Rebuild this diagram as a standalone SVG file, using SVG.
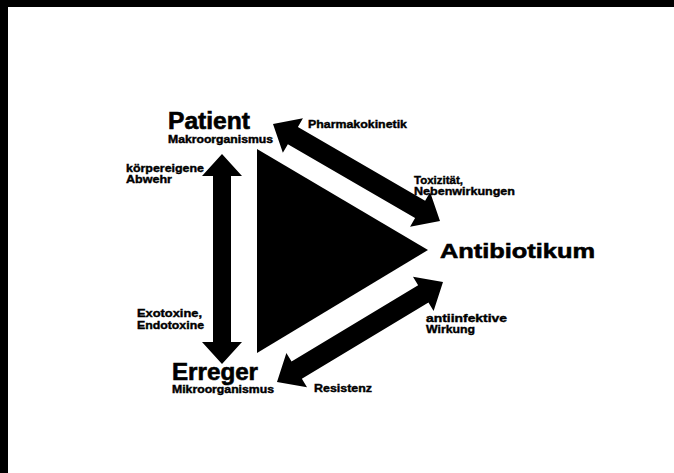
<svg xmlns="http://www.w3.org/2000/svg" width="674" height="473" viewBox="0 0 674 473">
<style>
text{font-family:"Liberation Sans",Arial,sans-serif;font-weight:bold;fill:#000;stroke:#000}
.big{font-size:23px;stroke-width:0.6}
.ab{font-size:21px;stroke-width:0.6}
.sm{font-size:11px;stroke-width:0.4}
.xs{font-size:10px;stroke-width:0.4}
.shape{fill:#000;stroke:none}
</style>
<rect width="674" height="473" fill="#fff"/>
<rect x="0" y="0" width="674" height="7" fill="#000"/>
<rect x="0" y="0" width="8" height="473" fill="#000"/>
<g id="center-triangle">
<polygon class="shape" points="257,149 428,250 257,353"/>
</g>
<g id="patient">
<text class="big" x="168" y="129" textLength="82" lengthAdjust="spacingAndGlyphs">Patient</text>
<text class="xs" x="168" y="143" textLength="105" lengthAdjust="spacingAndGlyphs">Makroorganismus</text>
</g>
<g id="antibiotikum">
<text class="ab" x="440" y="257.5" textLength="155" lengthAdjust="spacingAndGlyphs">Antibiotikum</text>
</g>
<g id="erreger">
<text class="big" x="172" y="380" textLength="86" lengthAdjust="spacingAndGlyphs">Erreger</text>
<text class="xs" x="172" y="392.5" textLength="102" lengthAdjust="spacingAndGlyphs">Mikroorganismus</text>
</g>
<g id="connectors">
<polygon class="shape" points="222,154 242,176 231,176 231,342 242,342 222,364 202,342 213,342 213,176 202,176"/>
<polygon class="shape" points="273,124 302.95,118.25 297.92,126.9 425.12,200.78 430.15,192.13 440,221 410.05,226.75 415.08,218.1 287.88,144.22 282.85,152.87"/>
<polygon class="shape" points="277,382 307.02,387.26 301.86,378.7 428.46,302.44 433.62,311 443,282 412.98,276.74 418.14,285.3 291.54,361.56 286.38,353"/>
<text class="sm" x="308" y="128" textLength="99" lengthAdjust="spacingAndGlyphs">Pharmakokinetik</text>
<text class="sm" x="414" y="183.5" textLength="49" lengthAdjust="spacingAndGlyphs">Toxizität,</text>
<text class="sm" x="414" y="195" textLength="101" lengthAdjust="spacingAndGlyphs">Nebenwirkungen</text>
<text class="sm" x="126" y="171.5" textLength="78" lengthAdjust="spacingAndGlyphs">körpereigene</text>
<text class="sm" x="126" y="183" textLength="46" lengthAdjust="spacingAndGlyphs">Abwehr</text>
<text class="sm" x="137" y="316.5" textLength="65" lengthAdjust="spacingAndGlyphs">Exotoxine,</text>
<text class="sm" x="137" y="329" textLength="67" lengthAdjust="spacingAndGlyphs">Endotoxine</text>
<text class="sm" x="426" y="321.5" textLength="81" lengthAdjust="spacingAndGlyphs">antiinfektive</text>
<text class="sm" x="426" y="332.5" textLength="49" lengthAdjust="spacingAndGlyphs">Wirkung</text>
<text class="sm" x="314" y="391.5" textLength="58" lengthAdjust="spacingAndGlyphs">Resistenz</text>
</g>
</svg>
